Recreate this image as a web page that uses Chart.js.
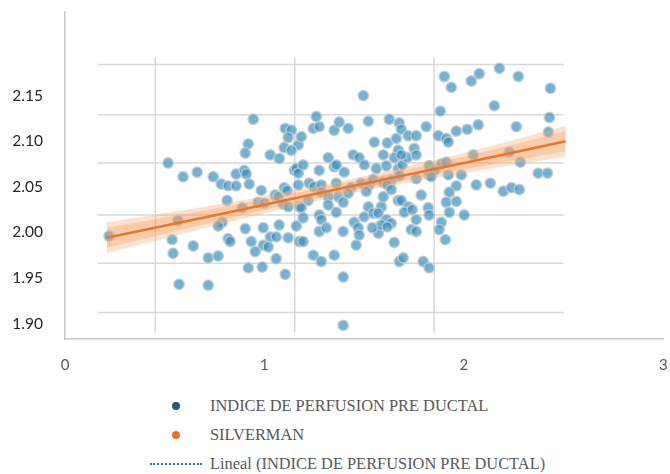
<!DOCTYPE html>
<html>
<head>
<meta charset="utf-8">
<script src="https://cdn.jsdelivr.net/npm/chart.js@4.4.1/dist/chart.umd.min.js"></script>
<style>
  html, body { margin: 0; background: #fff; overflow: hidden; }
  #wrap { position: relative; width: 670px; height: 474px; overflow: hidden; }
  #chartBox { position: absolute; left: 0; top: 0; width: 670px; height: 380px; }
  #legend { position: absolute; left: 150px; top: 391px; font-family: "Liberation Serif", serif; font-size: 16.4px; color: #595959; }
  .item { display: flex; align-items: center; height: 29px; white-space: nowrap; }
  .mark { width: 52px; height: 10px; display: flex; justify-content: center; align-items: center; margin-right: 8px; }
  .dot { width: 8px; height: 8px; border-radius: 50%; }
  .dots { width: 52px; height: 0; border-top: 2px dotted; }
</style>
</head>
<body>
<div id="wrap">
  <div id="chartBox"><canvas id="scatterChart"></canvas></div>
  <div id="legend"></div>
</div>
<script>
const xTicks = [0, 1, 2, 3];
const yTicks = [1.90, 1.95, 2.00, 2.05, 2.10, 2.15];

const seriesNames = [
  'INDICE DE PERFUSION PRE DUCTAL',
  'SILVERMAN',
  'Lineal (INDICE DE PERFUSION PRE DUCTAL)'
];

// [x, y]
const perfusionPts = [
  [0.221,1.996],[0.517,2.076],[0.592,2.061],[0.663,2.066],[0.743,2.061],[0.783,2.053],[0.818,2.051],
  [0.858,2.051],[0.858,2.064],[0.899,2.068],[0.909,2.064],[0.924,2.053],[0.919,2.097],[0.904,2.087],
  [0.944,2.124],[0.813,2.035],[0.889,2.027],[0.788,2.011],[0.768,2.007],[0.567,2.013],[0.537,1.992],
  [0.542,1.977],[0.643,1.985],[0.718,1.972],[0.768,1.974],[0.818,1.993],[0.828,1.990],[0.904,2.004],
  [0.919,1.961],[0.572,1.943],[0.718,1.942],[0.934,1.990],[1.104,2.114],[1.135,2.112],[1.119,2.104],
  [1.170,2.096],[1.099,2.093],[1.135,2.090],[1.029,2.085],[1.074,2.081],[1.150,2.068],[1.160,2.070],
  [1.170,2.065],[0.984,2.046],[1.054,2.041],[1.099,2.049],[1.114,2.046],[1.170,2.052],[1.069,2.039],
  [1.094,2.031],[1.119,2.028],[1.175,2.028],[0.969,2.033],[0.999,2.032],[0.994,2.005],[1.074,2.008],
  [1.160,2.007],[1.029,1.995],[1.059,1.995],[1.119,1.994],[0.994,1.986],[1.019,1.984],[1.175,1.990],
  [0.954,1.979],[1.059,1.971],[0.989,1.962],[1.104,1.954],
  [1.185,2.105],[1.260,2.127],[1.245,2.114],[1.275,2.116],[1.350,2.112],[1.375,2.121],[1.420,2.114],
  [1.496,2.150],[1.521,2.122],[1.626,2.124],[1.676,2.120],[1.551,2.099],[1.616,2.098],[1.661,2.103],
  [1.671,2.090],[1.445,2.085],[1.475,2.082],[1.320,2.082],[1.596,2.085],[1.651,2.082],[1.194,2.074],
  [1.275,2.068],[1.350,2.072],[1.400,2.066],[1.561,2.070],[1.611,2.073],[1.671,2.070],[1.676,2.062],
  [1.224,2.054],[1.249,2.050],[1.285,2.052],[1.360,2.054],[1.435,2.049],[1.485,2.054],[1.525,2.052],
  [1.545,2.058],[1.596,2.055],[1.636,2.057],[1.285,2.044],[1.370,2.039],[1.420,2.043],[1.219,2.035],
  [1.320,2.039],[1.184,2.027],[1.320,2.030],[1.395,2.033],[1.521,2.028],[1.586,2.028],[1.596,2.039],
  [1.671,2.035],[1.275,2.019],[1.285,2.014],[1.360,2.022],[1.500,2.017],[1.545,2.021],[1.571,2.021],
  [1.450,2.011],[1.611,2.014],[1.636,2.010],[1.194,2.016],[1.275,2.001],[1.310,2.005],[1.395,2.001],
  [1.470,2.005],[1.475,1.997],[1.571,1.999],[1.586,2.008],[1.194,1.990],[1.460,1.986],[1.651,1.989],
  [1.245,1.975],[1.285,1.968],[1.350,1.975],[1.676,1.968],[1.395,1.951],[1.395,1.898],
  [1.361,2.074],[1.501,2.074],[1.691,2.074],[1.716,2.082],[1.511,2.045],[1.616,2.052],[1.636,2.047],
  [1.541,2.005],[1.616,2.006],
  [1.686,2.113],[1.721,2.106],[1.761,2.106],[1.811,2.116],[1.872,2.106],[1.912,2.103],[1.922,2.099],
  [1.962,2.111],[2.017,2.113],[2.072,2.118],[2.263,2.116],[2.424,2.110],[2.429,2.126],[2.434,2.158],
  [2.153,2.139],[1.882,2.133],[1.902,2.171],[1.937,2.159],[2.037,2.166],[2.077,2.174],[2.178,2.180],
  [2.273,2.171],[1.686,2.085],[1.751,2.092],[1.761,2.085],[1.826,2.073],[1.887,2.075],[1.987,2.063],
  [2.047,2.085],[2.228,2.088],[2.283,2.077],[2.373,2.065],[2.419,2.065],[2.062,2.052],[2.133,2.054],
  [2.198,2.045],[2.238,2.049],[2.278,2.047],[1.962,2.051],[1.922,2.063],[1.927,2.044],[1.912,2.033],
  [1.962,2.034],[1.927,2.022],[2.002,2.019],[1.887,2.011],[1.907,1.992],[1.821,2.027],[1.826,2.019],
  [1.761,2.014],[1.736,2.003],[1.761,2.001],[1.696,1.972],[1.796,1.968],[1.826,1.961],[1.686,2.035],
  [1.721,2.028],[1.786,2.041],[1.761,2.059],[1.826,2.063],[1.852,2.068],[1.701,2.022],
  [1.911,2.077],[1.836,2.061],[1.741,2.025],[1.876,2.003]
];

// orange fit line and its shaded band
const trendX = [0.21, 0.8, 1.4, 2.0, 2.51];
const trendY = [1.994, 2.021, 2.049, 2.076, 2.100];
const outerHi = [2.011, 2.032, 2.057, 2.087, 2.117];
const outerLo = [1.977, 2.010, 2.041, 2.065, 2.083];
const innerHi = [2.005, 2.028, 2.054, 2.083, 2.111];
const innerLo = [1.983, 2.014, 2.044, 2.069, 2.089];

function toXY(xs, ys) {
    return xs.map((x, i) => ({ x: x, y: ys[i] }));
}

// faint grid of the pasted picture behind the points
const pastedGrid = {
    xs: [0.453, 1.152, 1.851],
    ys: [2.184, 2.129, 2.076, 2.019, 1.966, 1.912],
    xFrom: 0.164, xTo: 2.50, yFrom: 1.890, yTo: 2.192
};

const pastedGridPlugin = {
    id: 'pastedGrid',
    beforeDatasetsDraw(chart) {
        const ctx = chart.ctx;
        const x = chart.scales.x, y = chart.scales.y;
        ctx.save();
        ctx.strokeStyle = '#d9d9d9';
        ctx.lineWidth = 1.5;
        pastedGrid.ys.forEach(v => {
            ctx.beginPath();
            ctx.moveTo(x.getPixelForValue(pastedGrid.xFrom), y.getPixelForValue(v));
            ctx.lineTo(x.getPixelForValue(pastedGrid.xTo), y.getPixelForValue(v));
            ctx.stroke();
        });
        pastedGrid.xs.forEach(v => {
            ctx.beginPath();
            ctx.moveTo(x.getPixelForValue(v), y.getPixelForValue(pastedGrid.yTo));
            ctx.lineTo(x.getPixelForValue(v), y.getPixelForValue(pastedGrid.yFrom));
            ctx.stroke();
        });
        ctx.restore();
    }
};

// no extra room for the end labels, the picture has none
function noEdgePadding(s) {
    s.paddingTop = 0;
    s.paddingBottom = 0;
    s.paddingLeft = 0;
    s.paddingRight = 0;
}

const bandStyle = { pointRadius: 0, borderWidth: 0, tension: 0.3, legendMark: null };

const ctx = document.getElementById('scatterChart').getContext('2d');
const chart = new Chart(ctx, {
    type: 'line',
    data: {
        datasets: [{
            label: seriesNames[0],
            data: perfusionPts.map(p => ({ x: p[0], y: p[1] })),
            showLine: false,
            pointRadius: 5.2,
            pointBackgroundColor: 'rgba(56, 146, 192, 0.7)',
            pointBorderColor: 'rgba(195, 202, 208, 0.85)',
            pointBorderWidth: 1.5,
            order: 10,
            legendMark: { type: 'dot', color: '#1f5a82' }
        }, {
            ...bandStyle,
            label: 'outer band',
            data: toXY(trendX, outerHi),
            fill: '+1',
            backgroundColor: 'rgba(246, 178, 126, 0.38)',
            order: 3
        }, {
            ...bandStyle,
            label: 'outer band low',
            data: toXY(trendX, outerLo),
            fill: false,
            order: 3
        }, {
            ...bandStyle,
            label: 'inner band',
            data: toXY(trendX, innerHi),
            fill: '+1',
            backgroundColor: 'rgba(240, 150, 90, 0.3)',
            order: 2
        }, {
            ...bandStyle,
            label: 'inner band low',
            data: toXY(trendX, innerLo),
            fill: false,
            order: 2
        }, {
            label: seriesNames[1],
            data: toXY(trendX, trendY),
            borderColor: '#e8772e',
            borderWidth: 2.5,
            pointRadius: 0,
            tension: 0.3,
            fill: false,
            order: 1,
            legendMark: { type: 'dot', color: '#e8702a' }
        }, {
            label: seriesNames[2],
            data: [],
            borderColor: '#2a6f97',
            borderDash: [2, 2],
            pointRadius: 0,
            order: 0,
            legendMark: { type: 'dots', color: '#2a6f97' }
        }]
    },
    options: {
        responsive: true,
        maintainAspectRatio: false,
        animation: false,
        layout: { padding: { top: 12, right: 5, left: 0, bottom: 0 } },
        scales: {
            x: {
                type: 'linear',
                min: 0,
                max: 3,
                afterBuildTicks: s => { s.ticks = xTicks.map(v => ({ value: v })); },
                afterFit: s => { s.height = 41; noEdgePadding(s); },
                grid: { display: false, drawTicks: false },
                border: { display: true, color: '#c6c6c6', width: 1.5 },
                ticks: {
                    padding: 17,
                    color: '#595959',
                    font: { family: 'Lato', size: 15 }
                }
            },
            y: {
                min: 1.883,
                max: 2.2417,
                afterBuildTicks: s => { s.ticks = yTicks.map(v => ({ value: v })); },
                afterFit: s => { s.width = 65; noEdgePadding(s); },
                grid: { display: false, drawTicks: false },
                border: { display: true, color: '#c6c6c6', width: 1.5 },
                ticks: {
                    padding: 22,
                    color: '#262626',
                    font: { family: 'Lato', size: 15.5 },
                    callback: v => v.toFixed(2)
                }
            }
        },
        plugins: {
            legend: { display: false },
            tooltip: { enabled: false }
        }
    },
    plugins: [pastedGridPlugin]
});

// legend drawn as html rows, built from the datasets
const legendBox = document.getElementById('legend');
chart.data.datasets.filter(d => d.legendMark).forEach(d => {
    const row = document.createElement('div');
    row.className = 'item';
    const mark = document.createElement('span');
    mark.className = 'mark';
    const sym = document.createElement('span');
    if (d.legendMark.type === 'dot') {
        sym.className = 'dot';
        sym.style.background = d.legendMark.color;
    } else {
        sym.className = 'dots';
        sym.style.borderTopColor = d.legendMark.color;
    }
    mark.appendChild(sym);
    const text = document.createElement('span');
    text.textContent = d.label;
    row.appendChild(mark);
    row.appendChild(text);
    legendBox.appendChild(row);
});
</script>
</body>
</html>
